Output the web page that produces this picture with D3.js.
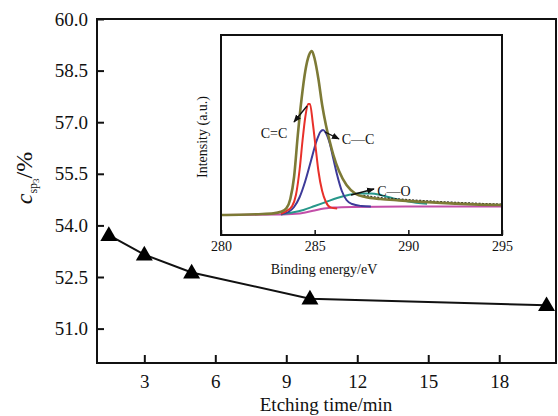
<!DOCTYPE html>
<html>
<head>
<meta charset="UTF-8">
<script src="https://d3js.org/d3.v7.min.js"></script>
<style>
  body { margin: 0; background: #fff; }
  svg text { font-family: "Liberation Serif", "Times New Roman", Times, "DejaVu Serif", "Noto Serif", serif; fill: #111; }
</style>
</head>
<body>
<div id="chart"></div>
<script>
// main series: sp3 content vs etching time
const etchTime = [1.5, 3, 5, 10, 20];
const sp3Content = [53.72, 53.15, 52.63, 51.87, 51.68];
const xTicks = [3, 6, 9, 12, 15, 18];
const yTicks = [51.0, 52.5, 54.0, 55.5, 57.0, 58.5, 60.0];

// inset XPS C1s spectrum, [binding energy, intensity]
const envelope = [[280, 10], [281, 10.1], [282, 10.4], [282.8, 10.8], [283.2, 11.6], [283.5, 13.5], [283.7, 18],
  [283.9, 29], [284.1, 50], [284.3, 68], [284.5, 82], [284.7, 90], [284.85, 92], [285.0, 88], [285.2, 78],
  [285.4, 65], [285.6, 55], [285.8, 47], [286.0, 40], [286.3, 32], [286.7, 25], [287.2, 20.5], [287.7, 19],
  [288.5, 18], [289.5, 17.3], [290.5, 16.7], [291.5, 16.2], [292.5, 15.7], [293.5, 15.3], [295, 15]];
const rawData = [[287.6, 19.8], [288.4, 18.8], [289.3, 18.1], [290.2, 17.5], [291.1, 17.0], [292.0, 16.5],
  [293.0, 16.1], [294.0, 15.7], [295, 15.4]];
const peakCC2 = [[283.2, 10.6], [283.5, 12], [283.8, 14.5], [284.0, 20], [284.2, 33], [284.35, 47], [284.5, 59],
  [284.65, 65.5], [284.75, 65.5], [284.9, 56], [285.05, 44], [285.2, 32], [285.4, 22], [285.6, 16.5],
  [285.85, 13.8], [286.2, 13.2]];
const peakCC1 = [[283.2, 10.4], [283.6, 11.5], [283.9, 14], [284.2, 19], [284.5, 27], [284.8, 37], [285.1, 47],
  [285.3, 51.5], [285.45, 52.5], [285.6, 51], [285.8, 46], [286.0, 38], [286.2, 30], [286.45, 22],
  [286.7, 17.5], [287.0, 15.5], [287.5, 14.5], [288, 14.2]];
const peakCO = [[283.2, 10.3], [283.8, 11.2], [284.4, 12.5], [285.0, 14.5], [285.6, 16.5], [286.2, 18.5],
  [286.8, 20], [287.4, 20.8], [288.0, 20.8], [288.6, 19.8], [289.2, 18.3], [290, 16.8], [291, 15.6]];
const background = [[280, 10], [283, 10.2], [284, 10.6], [284.5, 11.3], [285, 12.3], [285.5, 13.2], [286, 13.7],
  [287, 14], [290, 14.2], [295, 14.3]];
const insetTicks = [280, 285, 290, 295];

const W = 558, H = 416;
const serif = '"Liberation Serif", "Times New Roman", Times, "DejaVu Serif", serif';
const svg = d3.select("#chart").append("svg").attr("width", W).attr("height", H)
  .attr("font-family", serif);

// main plot
const x = d3.scaleLinear().domain([1, 20.4]).range([97, 556]);
const y = d3.scaleLinear().domain([50, 60]).range([363, 19]);

svg.append("rect")
  .attr("x", 97).attr("y", 19).attr("width", 459).attr("height", 344)
  .attr("fill", "none").attr("stroke", "#111").attr("stroke-width", 2);

const gx = svg.append("g").attr("transform", "translate(0,363)")
  .call(d3.axisBottom(x).tickValues(xTicks).tickSize(-8).tickPadding(12).tickFormat(d3.format("d")));
const gy = svg.append("g").attr("transform", "translate(97,0)")
  .call(d3.axisLeft(y).tickValues(yTicks).tickSize(-7).tickPadding(9).tickFormat(d3.format(".1f")));
[gx, gy].forEach(g => {
  g.attr("font-family", serif).attr("font-size", 19);
  g.select(".domain").remove();
  g.selectAll("line").attr("stroke", "#111").attr("stroke-width", 2);
  g.selectAll("text").attr("fill", "#111");
});

svg.append("text").attr("x", 326).attr("y", 411).attr("text-anchor", "middle")
  .attr("font-size", 19).text("Etching time/min");

const yl = svg.append("text").attr("transform", "translate(32,178) rotate(-90)")
  .attr("text-anchor", "middle").attr("font-size", 24);
yl.append("tspan").attr("font-style", "italic").text("c");
yl.append("tspan").attr("font-size", 12).attr("dy", 5).text("sp");
yl.append("tspan").attr("font-size", 9).attr("dy", 2).text("3");
yl.append("tspan").attr("dy", -7).text("/%");

svg.append("path").datum(etchTime.map((t, i) => [t, sp3Content[i]]))
  .attr("fill", "none").attr("stroke", "#111").attr("stroke-width", 2)
  .attr("d", d3.line().x(d => x(d[0])).y(d => y(d[1])));

svg.selectAll(".tri").data(etchTime).enter().append("path")
  .attr("transform", (t, i) => `translate(${x(t)},${y(sp3Content[i]) + 1})`)
  .attr("d", d3.symbol().type(d3.symbolTriangle).size(125))
  .attr("fill", "#000");

// inset
const ix = d3.scaleLinear().domain([280, 295]).range([221, 502]);
const iy = d3.scaleLinear().domain([0, 100]).range([235, 35]);

svg.append("rect").attr("x", 221).attr("y", 35).attr("width", 281).attr("height", 200)
  .attr("fill", "#fff").attr("stroke", "none");

const ln = d3.line().x(d => ix(d[0])).y(d => iy(d[1])).curve(d3.curveMonotoneX);
const curves = [
  [background, "#c24ea8", 2],
  [peakCO, "#27978a", 2],
  [peakCC1, "#3d3a99", 2],
  [peakCC2, "#e8302a", 2],
  [rawData, "#222", 1.4],
  [envelope, "#7d7a36", 2.6]
];
curves.forEach(([data, color, w]) => {
  svg.append("path").datum(data).attr("fill", "none")
    .attr("stroke", color).attr("stroke-width", w)
    .attr("stroke-dasharray", color === "#222" ? "2,1.5" : null)
    .attr("d", ln);
});

svg.append("rect").attr("x", 221).attr("y", 35).attr("width", 281).attr("height", 200)
  .attr("fill", "none").attr("stroke", "#111").attr("stroke-width", 2);

const gix = svg.append("g").attr("transform", "translate(0,235)")
  .call(d3.axisBottom(ix).tickValues(insetTicks).tickSize(-5).tickPadding(6).tickFormat(d3.format("d")));
gix.attr("font-family", serif).attr("font-size", 14);
gix.select(".domain").remove();
gix.selectAll("line").attr("stroke", "#111").attr("stroke-width", 1.5);
gix.selectAll("text").attr("fill", "#111");

svg.append("text").attr("x", 324).attr("y", 274).attr("text-anchor", "middle")
  .attr("font-size", 14).text("Binding energy/eV");
svg.append("text").attr("transform", "translate(207,137) rotate(-90)")
  .attr("text-anchor", "middle").attr("font-size", 14).text("Intensity (a.u.)");

// peak labels with arrows
svg.append("defs").append("marker").attr("id", "ah")
  .attr("viewBox", "0 0 10 10").attr("refX", 9).attr("refY", 5)
  .attr("markerWidth", 6).attr("markerHeight", 6).attr("orient", "auto")
  .append("path").attr("d", "M0,1 L10,5 L0,9 Z").attr("fill", "#111");

const labels = [
  {text: "C=C", tx: 274, ty: 138, from: [307, 106], to: [294, 122]},
  {text: "C\u2014C", tx: 358, ty: 144, from: [325, 132], to: [339, 139]},
  {text: "C\u2014O", tx: 394, ty: 196, from: [351, 195], to: [374, 189]}
];
labels.forEach(l => {
  svg.append("line").attr("x1", l.from[0]).attr("y1", l.from[1])
    .attr("x2", l.to[0]).attr("y2", l.to[1])
    .attr("stroke", "#111").attr("stroke-width", 1.3).attr("marker-end", "url(#ah)");
  svg.append("text").attr("x", l.tx).attr("y", l.ty).attr("text-anchor", "middle")
    .attr("font-size", 14).text(l.text);
});
</script>
</body>
</html>
